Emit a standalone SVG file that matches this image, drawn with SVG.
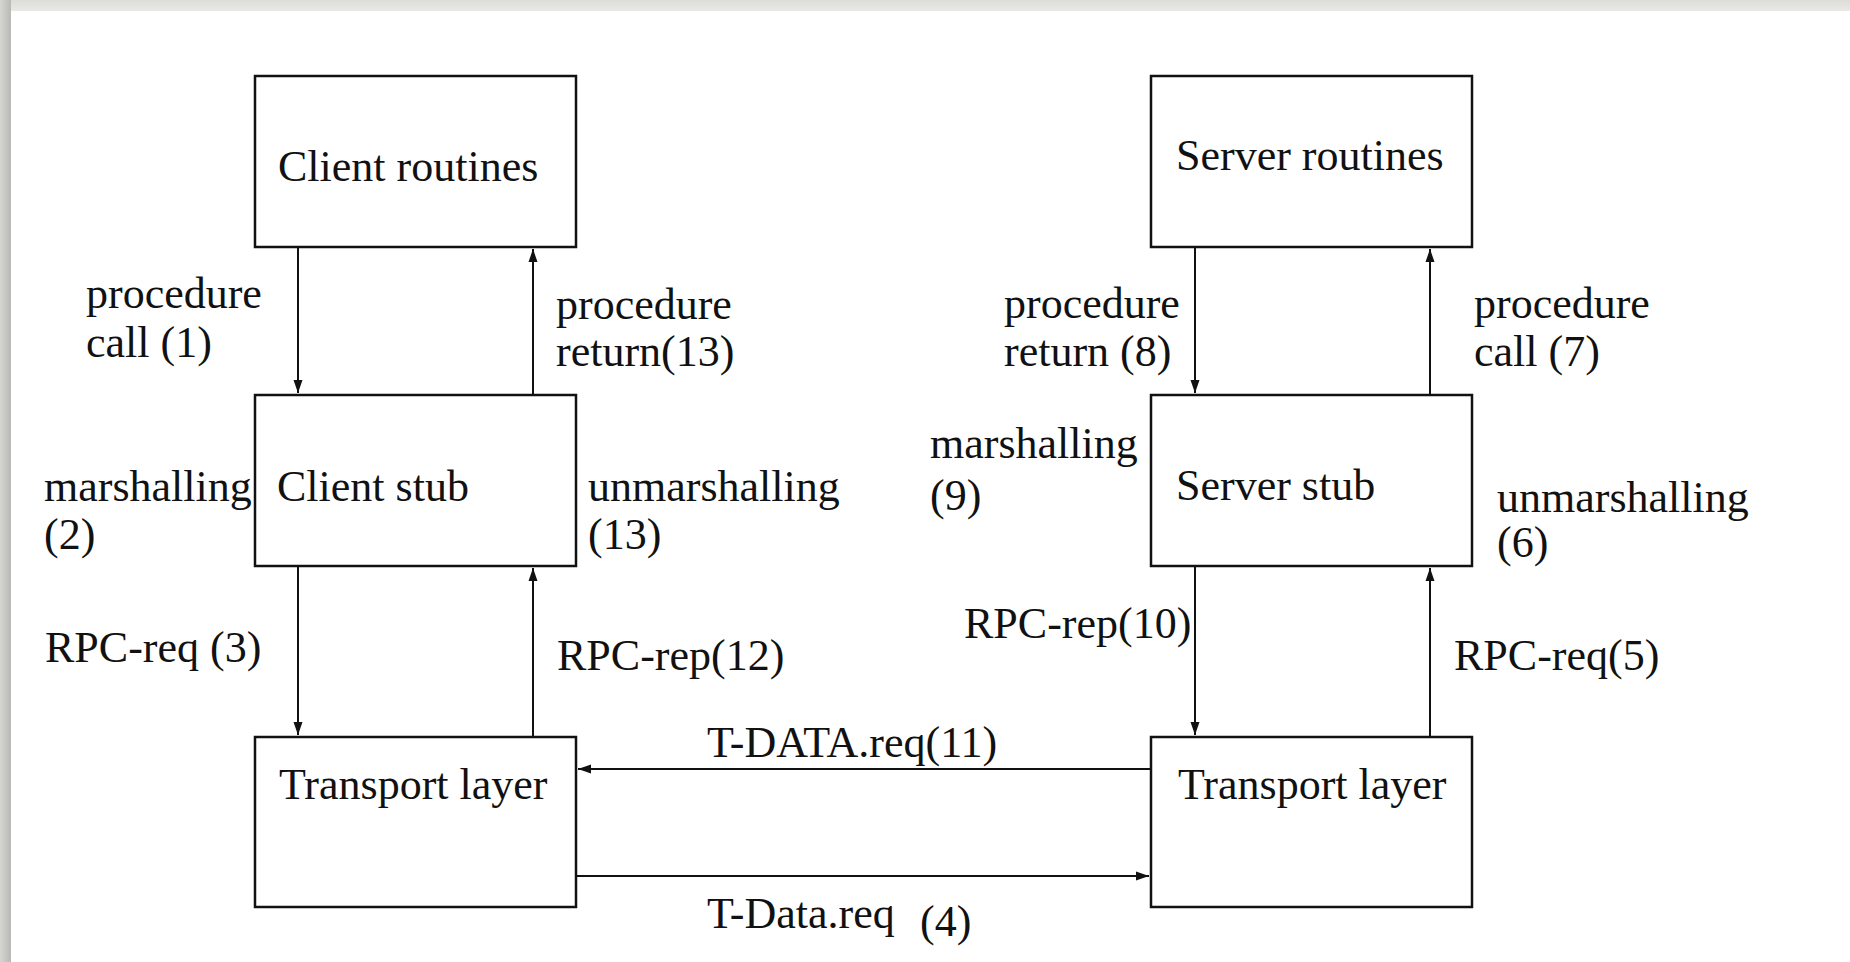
<svg xmlns="http://www.w3.org/2000/svg" width="1850" height="962" viewBox="0 0 1850 962">
<defs>
<linearGradient id="topband" x1="0" y1="0" x2="0" y2="1">
<stop offset="0" stop-color="#dcdcd8"/>
<stop offset="1" stop-color="#e9e9e6"/>
</linearGradient>
<linearGradient id="leftband" x1="0" y1="0" x2="1" y2="0">
<stop offset="0" stop-color="#d6d6d2"/>
<stop offset="0.6" stop-color="#c4c4c0"/>
<stop offset="1" stop-color="#b8b8b4"/>
</linearGradient>
<marker id="arr" markerWidth="14" markerHeight="10" refX="13" refY="5" orient="auto" markerUnits="userSpaceOnUse">
<path d="M0,0.5 L13,5 L0,9.5 z" fill="#111"/>
</marker>
<style>
.box{fill:#fff;stroke:#111;stroke-width:2.5}
.lbl{font-family:"Liberation Serif","Times New Roman",serif;font-size:44px;fill:#111}
.con{stroke:#111;stroke-width:2;fill:none;marker-end:url(#arr)}
</style>
</defs>
<rect x="0" y="0" width="1850" height="962" fill="#fff"/>
<rect x="0" y="0" width="1850" height="11" fill="url(#topband)"/>
<rect x="0" y="0" width="11" height="962" fill="url(#leftband)"/>

<g id="client-routines"><rect class="box" x="255" y="76" width="321" height="171"/><text class="lbl" x="278" y="181">Client routines</text></g>
<g id="client-stub"><rect class="box" x="255" y="395" width="321" height="171"/><text class="lbl" x="277" y="501">Client stub</text></g>
<g id="client-transport"><rect class="box" x="255" y="737" width="321" height="170"/><text class="lbl" x="279" y="799">Transport layer</text></g>
<g id="server-routines"><rect class="box" x="1151" y="76" width="321" height="171"/><text class="lbl" x="1176" y="170">Server routines</text></g>
<g id="server-stub"><rect class="box" x="1151" y="395" width="321" height="171"/><text class="lbl" x="1176" y="500">Server stub</text></g>
<g id="server-transport"><rect class="box" x="1151" y="737" width="321" height="170"/><text class="lbl" x="1178" y="799">Transport layer</text></g>

<g id="connectors">
<line class="con" x1="298" y1="247" x2="298" y2="393"/>
<line class="con" x1="533" y1="395" x2="533" y2="249"/>
<line class="con" x1="298" y1="566" x2="298" y2="735"/>
<line class="con" x1="533" y1="737" x2="533" y2="568"/>
<line class="con" x1="1195" y1="247" x2="1195" y2="393"/>
<line class="con" x1="1430" y1="395" x2="1430" y2="249"/>
<line class="con" x1="1195" y1="566" x2="1195" y2="735"/>
<line class="con" x1="1430" y1="737" x2="1430" y2="568"/>
<line class="con" x1="1151" y1="769" x2="578" y2="769"/>
<line class="con" x1="576" y1="876" x2="1149" y2="876"/>
</g>

<g id="labels">
<text class="lbl" x="86" y="308">procedure</text>
<text class="lbl" x="86" y="357">call (1)</text>
<text class="lbl" x="556" y="319">procedure</text>
<text class="lbl" x="556" y="366">return(13)</text>
<text class="lbl" x="44" y="501">marshalling</text>
<text class="lbl" x="44" y="549">(2)</text>
<text class="lbl" x="588" y="501">unmarshalling</text>
<text class="lbl" x="588" y="549">(13)</text>
<text class="lbl" x="45" y="662">RPC-req (3)</text>
<text class="lbl" x="557" y="670">RPC-rep(12)</text>
<text class="lbl" x="1004" y="318">procedure</text>
<text class="lbl" x="1004" y="366">return (8)</text>
<text class="lbl" x="1474" y="318">procedure</text>
<text class="lbl" x="1474" y="366">call (7)</text>
<text class="lbl" x="930" y="458">marshalling</text>
<text class="lbl" x="930" y="510">(9)</text>
<text class="lbl" x="1497" y="512">unmarshalling</text>
<text class="lbl" x="1497" y="557">(6)</text>
<text class="lbl" x="964" y="638">RPC-rep(10)</text>
<text class="lbl" x="1454" y="670">RPC-req(5)</text>
<text class="lbl" x="707" y="757">T-DATA.req(11)</text>
<text class="lbl" x="707" y="928">T-Data.req</text>
<text class="lbl" x="920" y="936">(4)</text>
</g>
</svg>
